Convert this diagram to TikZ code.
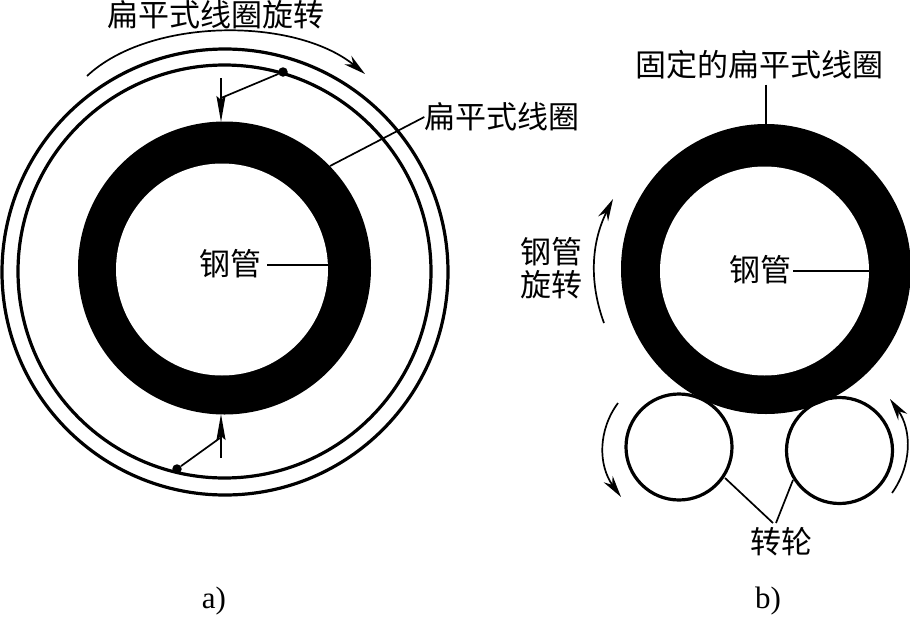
\documentclass[tikz,border=0pt]{standalone}
\usepackage{fontspec}
\setmainfont{Liberation Serif}
\newfontfamily\cjkfont{Noto Sans CJK SC}
\usetikzlibrary{arrows.meta}
\tikzset{
  lbl/.style={font=\cjkfont\fontsize{31}{36}\selectfont,inner sep=0pt,text=black},
  figcap/.style={font=\fontsize{31}{36}\selectfont,inner sep=0pt},
  ring/.style={circle,draw=black,line width=3.2pt,inner sep=0pt,outer sep=0pt,minimum size=#1},
  diskout/.style={circle,fill=black,inner sep=0pt,outer sep=0pt,minimum size=#1},
  diskin/.style={circle,fill=white,inner sep=0pt,outer sep=0pt,minimum size=#1},
  leader/.style={line width=1.7pt},
  rotarrow/.style={line width=1.7pt,-{Stealth[length=22pt,width=11pt,inset=7pt]}},
  radarrow/.style={line width=1.9pt,-{Stealth[length=26pt,width=9pt,inset=4pt]}},
  dotmark/.style={circle,fill=black,inner sep=0pt,minimum size=9.5pt}
}
\begin{document}
\begin{tikzpicture}[x=1pt,y=-1pt]
\useasboundingbox (0,0) rectangle (910,616);
% a) rings
\node[ring=446pt] (outerA) at (225,272) {};
\node[ring=413pt] (innerA) at (224.5,271.5) {};
\node[diskout=293pt] (tubeA) at (224.5,268) {};
\node[diskin=212pt] (boreA) at (222,269.5) {};
% a) labels
\node[lbl] (titleA) at (216,15) {扁平式线圈旋转};
\node[lbl] (coilA) at (502,117) {扁平式线圈};
\node[lbl] (pipeA) at (230,264) {钢管};
\node[figcap] (capA) at (214,601) {a)};
% a) connectors
\coordinate (rotS) at (87,76);
\coordinate (rotE) at (365,74);
\draw[rotarrow] (rotS) .. controls (150,17) and (295,17) .. (rotE);
\coordinate (coilEnd) at (330,166);
\draw[leader] (coilEnd) -- (coilA.west);
\coordinate (pipeAend) at (328,265);
\draw[leader] (pipeAend -| pipeA.east) ++(6,0) -- (pipeAend);
\node[dotmark] (dotT) at (283,72) {};
\coordinate (armT) at (221,98);
\coordinate (arrTs) at (221,78);
\coordinate (arrTe) at (221,122);
\draw[radarrow] (arrTs) -- (arrTe);
\draw[leader] (dotT) -- (armT);
\node[dotmark] (dotB) at (177,469) {};
\coordinate (armB) at (220,438);
\coordinate (arrBs) at (221,458);
\coordinate (arrBe) at (221,414);
\draw[radarrow] (arrBs) -- (arrBe);
\draw[leader] (dotB) -- (armB);
% b) wheels and tube
\node[ring=106pt] (wheelL) at (679,447) {};
\node[ring=106pt] (wheelR) at (839.5,450.5) {};
\node[diskout=290pt] (tubeB) at (766,269) {};
\node[diskin=209pt] (boreB) at (764.5,271) {};
% b) labels
\node[lbl] (titleB) at (759,65) {固定的扁平式线圈};
\node[lbl] (pipeB) at (760,270) {钢管};
\node[lbl] (rotB1) at (551,252) {钢管};
\node[lbl] (rotB2) at (551,285) {旋转};
\node[lbl] (wheelLbl) at (781,542) {转轮};
\node[figcap] (capB) at (768,601) {b)};
% b) connectors
\draw[leader] (titleB.south -| tubeB.north) ++(0,5) -- (tubeB.north);
\draw[leader] (pipeB.east)++(2,1) -- (boreB.east);
\coordinate (wlS) at (604,323);
\coordinate (wlE) at (613,199);
\draw[rotarrow] (wlS) .. controls (590,285) and (590,245) .. (wlE);
\coordinate (lS) at (618,403);
\coordinate (lE) at (621,497);
\draw[rotarrow] (lS) .. controls (598,430) and (598,465) .. (lE);
\coordinate (rS) at (892,493);
\coordinate (rE) at (890,399);
\draw[rotarrow] (rS) .. controls (912,465) and (912,430) .. (rE);
\coordinate (jL) at (725,478);
\coordinate (jR) at (793,480);
\draw[leader] (jL) -- (773,523);
\draw[leader] (jR) -- (776,523);
\end{tikzpicture}
\end{document}
